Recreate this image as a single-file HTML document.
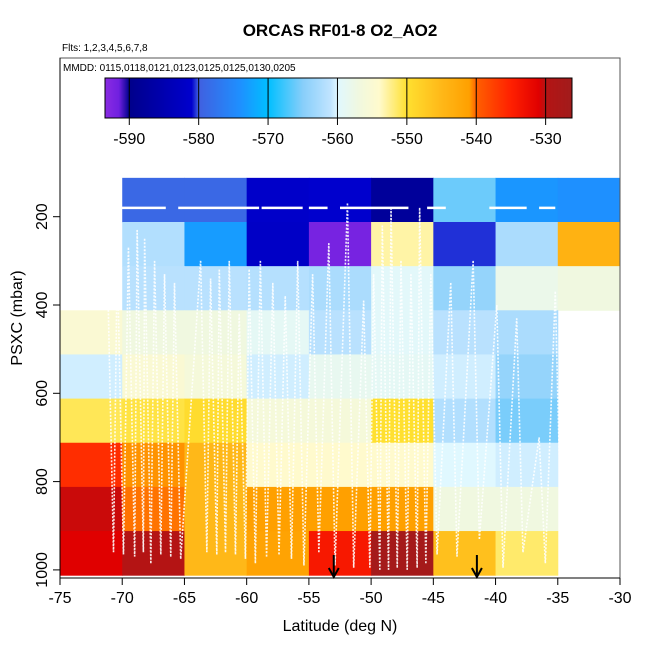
<!DOCTYPE html>
<html><head><meta charset="utf-8"><style>
body{margin:0;background:#fff}
svg{display:block;font-family:"Liberation Sans",Arial,sans-serif}
</style></head><body>
<svg id="chart" width="650" height="650" viewBox="0 0 650 650" xmlns="http://www.w3.org/2000/svg">
<defs><clipPath id="pc"><rect x="60" y="58" width="560" height="520"/></clipPath></defs>
<text x="340" y="36" text-anchor="middle" font-size="17" font-weight="bold">ORCAS RF01-8 O2_AO2</text>
<text x="62" y="51" font-size="10">Flts: 1,2,3,4,5,6,7,8</text>
<g id="cells" clip-path="url(#pc)"></g>
<g id="tracks" clip-path="url(#pc)"></g>
<g id="arrows"></g>
<rect x="60" y="58" width="560" height="520" fill="none" stroke="#555" stroke-width="1"/>
<text x="63" y="71" font-size="10">MMDD: 0115,0118,0121,0123,0125,0125,0130,0205</text>
<g id="cbar"></g>
<g id="axes"></g>
<text x="340" y="631" text-anchor="middle" font-size="16">Latitude (deg N)</text>
<text transform="translate(22,318) rotate(-90)" text-anchor="middle" font-size="16">PSXC (mbar)</text>
</svg>
<script>
const NS="http://www.w3.org/2000/svg";
const xTicks=[-75,-70,-65,-60,-55,-50,-45,-40,-35,-30];
const yTicks=[200,400,600,800,1000];
const cbTicks=[-590,-580,-570,-560,-550,-540,-530];
const rowP=[112,212,312,412,512,612,712,812,912];
const rowLat0=[-70,-70,-70,-75,-75,-75,-75,-75,-75];
const row1=[-579,-579,-581.5,-581,-588,-566,-573.5,-574];
const row2=[-562,-573,-582,-592,-553,-580.5,-562.5,-544];
const row3=[-561.5,-561.5,-561.8,-562.5,-559.5,-564,-558,-557];
const row4=[-555,-557,-557,-559,-561.5,-559.5,-561.5,-562.5];
const row5=[-560.5,-555,-556,-560.5,-558.5,-559,-560.5,-564];
const row6=[-551,-550.5,-549.5,-556,-556,-550,-562,-565.5];
const row7=[-536,-540.8,-545,-554,-554,-554,-560,-560.5];
const row8=[-530.5,-540.3,-545,-541,-541,-541,-557,-557];
const row9=[-531,-530,-545,-541.5,-534,-527,-546,-551.5];
const rows=[row1,row2,row3,row4,row5,row6,row7,row8,row9];
const arrowLats=[-53,-41.5];
const stopV=[-593.5,-591.5,-590,-585,-581,-580,-574,-570,-565,-561,-560,-557,-554,-550,-545,-541,-540,-535,-531,-530,-526];
const stopC=["#8a2be2","#7020e0","#00008b","#0000b0","#0000cd","#4060e0","#1e90ff","#00bfff","#87cefa","#c0e4ff","#e0f8ff","#f0f8e0","#fffacd","#ffe030","#ffb818","#ffa000","#ff6000","#ff2000","#e00000","#b41414","#a01c1c"];
// flight-track profiles: [lat, pTop, pBottom]
const profLat=[-71.2,-70.4,-69.5,-68.8,-68.2,-67.4,-66.6,-65.8,-63.7,-62.9,-62.2,-61.4,-60.6,-59.8,-58.9,-57.9,-56.9,-55.9,-54.7,-53.4,-51.9,-50.6,-49.8,-49.1,-48.4,-47.6,-46.8,-46.1,-45.2,-43.6,-41.8,-39.9,-38.3,-36.5,-35.2];
const profTop=[300,290,270,230,250,300,330,350,300,340,320,300,420,320,300,350,380,300,330,260,170,390,330,220,180,300,330,180,330,350,300,400,430,700,370];
const profBot=[960,965,970,960,985,965,970,975,960,965,960,965,975,985,970,965,975,990,960,990,995,995,1000,1000,995,1000,995,985,965,970,930,995,960,985,960];

function x(l){return 60+(l+75)*560/45;}
function y(p){return 216.7+(p-200)*88.3/200;}
function hex(c){return [1,3,5].map(i=>parseInt(c.substr(i,2),16));}
function color(v){
  if(v<=stopV[0])return stopC[0];
  for(let i=1;i<stopV.length;i++){
    if(v<=stopV[i]){const t=(v-stopV[i-1])/(stopV[i]-stopV[i-1]);const a=hex(stopC[i-1]),b=hex(stopC[i]);
      return "rgb("+a.map((q,k)=>Math.round(q+(b[k]-q)*t)).join(",")+")";}
  }
  return stopC[stopC.length-1];
}
function mk(t,a,parent){const e=document.createElementNS(NS,t);for(const k in a)e.setAttribute(k,a[k]);parent.appendChild(e);return e;}

const cells=document.getElementById("cells");
rows.forEach((r,ri)=>{
  r.forEach((v,ci)=>{
    const l=rowLat0[ri]+ci*5;
    const e=mk("rect",{x:x(l),y:y(rowP[ri]),width:x(l+5)-x(l)+0.5,height:y(rowP[ri]+100)-y(rowP[ri])+0.5,fill:color(v)},cells);
    
    
  });
});

const tracks=document.getElementById("tracks");
// upper-level legs
const legs=[[-71,-66.5],[-65.5,-59],[-58.8,-55.5],[-55,-53.5],[-52.5,-47],[-45.5,-44],[-40.5,-37.5],[-36.5,-35.2]];
legs.forEach(g=>{
  const e=mk("path",{d:"M"+x(g[0])+","+y(180)+" H"+x(g[1]),stroke:"#fff","stroke-width":2.5,fill:"none"},tracks);
  
  
});
let d="";
profLat.forEach((l,i)=>{
  const l2=l+0.5;
  d+="M"+x(l)+","+y(profTop[i])+" L"+x(l2)+","+y(profBot[i])+" ";
  if(i<profLat.length-1)d+="M"+x(l2)+","+y(profBot[i])+" L"+x(profLat[i+1])+","+y(profTop[i+1])+" ";
});
const tp=mk("path",{d:d,stroke:"#fff","stroke-width":1.6,"stroke-dasharray":"2,1.5",fill:"none",opacity:0.9},tracks);



const arrows=document.getElementById("arrows");
arrowLats.forEach(l=>{
  const g=mk("g",{},arrows);
  
  
  mk("line",{x1:x(l),y1:555,x2:x(l),y2:576,stroke:"#000","stroke-width":2},g);
  mk("path",{d:"M"+(x(l)-5)+",568 L"+x(l)+",577 L"+(x(l)+5)+",568",stroke:"#000","stroke-width":2,fill:"none"},g);
});

// colorbar
const cb=document.getElementById("cbar");
const cbL=105,cbR=572,vL=-593.5,vR=-526.2;
function cx(v){return cbL+(v-vL)*(cbR-cbL)/(vR-vL);}
for(let px=cbL;px<cbR;px++){
  const v=vL+(px+0.5-cbL)*(vR-vL)/(cbR-cbL);
  mk("rect",{x:px,y:78,width:1.2,height:40,fill:color(v)},cb);
}
mk("rect",{x:cbL,y:78,width:cbR-cbL,height:40,fill:"none",stroke:"#000","stroke-width":1},cb);
cbTicks.forEach(v=>{
  mk("line",{x1:cx(v),y1:78,x2:cx(v),y2:125,stroke:"#000","stroke-width":1},cb);
  const t=mk("text",{x:cx(v),y:144,"text-anchor":"middle","font-size":16},cb);t.textContent=v;
  
  
});

// axes
const ax=document.getElementById("axes");
mk("line",{x1:60,y1:578,x2:620,y2:578,stroke:"#000"},ax);
mk("line",{x1:60,y1:58,x2:60,y2:578,stroke:"#000"},ax);
xTicks.forEach(v=>{
  mk("line",{x1:x(v),y1:578,x2:x(v),y2:585,stroke:"#000"},ax);
  const t=mk("text",{x:x(v),y:603,"text-anchor":"middle","font-size":16},ax);t.textContent=v;
  
  
});
yTicks.forEach(v=>{
  mk("line",{x1:53,y1:y(v),x2:60,y2:y(v),stroke:"#000"},ax);
  const t=mk("text",{transform:"translate(47,"+y(v)+") rotate(-90)","text-anchor":"middle","font-size":16},ax);t.textContent=v;
  
  
});
</script>
</body></html>
